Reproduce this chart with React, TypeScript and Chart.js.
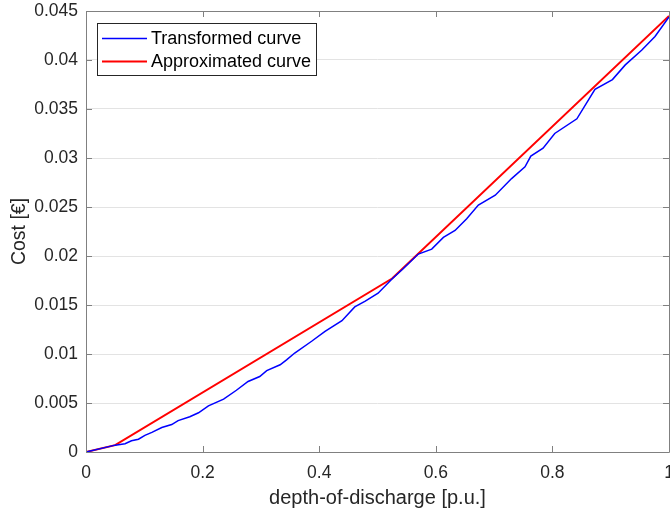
import React, { useEffect, useRef } from 'react';
import { Chart, registerables } from 'chart.js';

Chart.register(...registerables);

// ---- data ----
const xTickValues = [0, 0.2, 0.4, 0.6, 0.8, 1];
const yTickValues = [0, 0.005, 0.01, 0.015, 0.02, 0.025, 0.03, 0.035, 0.04, 0.045];

const transformedX = [
  0, 0.05, 0.067, 0.078, 0.09, 0.101, 0.113, 0.13, 0.147, 0.158, 0.178, 0.193, 0.21, 0.236,
  0.258, 0.278, 0.298, 0.31, 0.333, 0.344, 0.358, 0.387, 0.41, 0.439, 0.461, 0.479, 0.501,
  0.524, 0.544, 0.57, 0.593, 0.613, 0.633, 0.653, 0.673, 0.702, 0.73, 0.753, 0.763, 0.784,
  0.804, 0.842, 0.873, 0.903, 0.925, 0.953, 0.976, 1.0,
];
const transformedY = [
  0, 0.0007, 0.00085, 0.00115, 0.0013, 0.0017, 0.002, 0.0025, 0.0028, 0.0032, 0.0036, 0.004,
  0.0047, 0.0054, 0.0063, 0.0072, 0.0077, 0.0083, 0.0089, 0.0094, 0.0101, 0.0113, 0.0123,
  0.0134, 0.0148, 0.0154, 0.0162, 0.0176, 0.0187, 0.0202, 0.0207, 0.0219, 0.0226, 0.0238,
  0.0252, 0.0262, 0.0279, 0.0291, 0.0302, 0.031, 0.0325, 0.034, 0.037, 0.038, 0.0395, 0.041,
  0.0424, 0.0444,
];
const approxX = [0, 0.05, 0.525, 1];
const approxY = [0, 0.0007, 0.0177, 0.0445];

const seriesLabels = ['Transformed curve', 'Approximated curve'];
const seriesColors = ['#0000ff', '#ff0000'];
const xTitle = 'depth-of-discharge [p.u.]';
const yTitle = 'Cost [€]';

const FONT = '"Liberation Sans", Arial, Helvetica, sans-serif';
const AXIS_COLOR = '#808080';
const TEXT_COLOR = '#262626';

const fmt = (v: number) => String(Number(v.toFixed(4)));

const boxPlugin = {
  id: 'matlabBox',
  afterDatasetsDraw(chart: any) {
    const { ctx, chartArea } = chart;
    const { left, right, top, bottom } = chartArea;
    const xs = chart.scales.x;
    const ys = chart.scales.y;
    ctx.save();
    ctx.strokeStyle = AXIS_COLOR;
    ctx.lineWidth = 1;
    ctx.beginPath();
    ctx.rect(Math.round(left) + 0.5, Math.round(top) + 0.5, Math.round(right - left), Math.round(bottom - top));
    ctx.stroke();
    const tl = 6;
    ctx.beginPath();
    xTickValues.forEach((v) => {
      const px = Math.round(xs.getPixelForValue(v)) + 0.5;
      ctx.moveTo(px, bottom);
      ctx.lineTo(px, bottom - tl);
      ctx.moveTo(px, top);
      ctx.lineTo(px, top + tl);
    });
    yTickValues.forEach((v) => {
      const py = Math.round(ys.getPixelForValue(v)) + 0.5;
      ctx.moveTo(left, py);
      ctx.lineTo(left + tl, py);
      ctx.moveTo(right, py);
      ctx.lineTo(right - tl, py);
    });
    ctx.stroke();

    // legend
    const lx = 97.5, ly = 23.5, lw = 219, lh = 52;
    ctx.fillStyle = '#ffffff';
    ctx.fillRect(lx, ly, lw, lh);
    ctx.strokeStyle = '#262626';
    ctx.lineWidth = 1;
    ctx.strokeRect(lx, ly, lw, lh);
    ctx.font = `18px ${FONT}`;
    ctx.textBaseline = 'middle';
    ctx.textAlign = 'left';
    seriesLabels.forEach((label, i) => {
      const y = 38.5 + i * 23;
      ctx.strokeStyle = seriesColors[i];
      ctx.lineWidth = i === 0 ? 1.5 : 2;
      ctx.beginPath();
      ctx.moveTo(102, y);
      ctx.lineTo(147, y);
      ctx.stroke();
      ctx.fillStyle = '#000000';
      ctx.fillText(label, 151, y + 1);
    });
    ctx.restore();
  },
};

export default function App() {
  const ref = useRef<HTMLCanvasElement | null>(null);

  useEffect(() => {
    if (!ref.current) return;
    const chart = new Chart(ref.current, {
      type: 'line',
      data: {
        datasets: [
          {
            label: seriesLabels[0],
            data: transformedX.map((x, i) => ({ x, y: transformedY[i] })),
            borderColor: seriesColors[0],
            backgroundColor: seriesColors[0],
            borderWidth: 1.5,
            pointRadius: 0,
            tension: 0,
            fill: false,
          },
          {
            label: seriesLabels[1],
            data: approxX.map((x, i) => ({ x, y: approxY[i] })),
            borderColor: seriesColors[1],
            backgroundColor: seriesColors[1],
            borderWidth: 2,
            pointRadius: 0,
            tension: 0,
            fill: false,
          },
        ],
      },
      options: {
        animation: false,
        responsive: true,
        maintainAspectRatio: false,
        layout: { padding: { left: 0, right: 1, top: 11, bottom: 0 } },
        plugins: {
          legend: { display: false },
          tooltip: { enabled: false },
        },
        scales: {
          x: {
            type: 'linear',
            min: 0,
            max: 1,
            grid: { display: false, drawTicks: false },
            border: { display: false },
            afterBuildTicks: (s: any) => {
              s.ticks = xTickValues.map((v) => ({ value: v }));
            },
            afterFit: (s: any) => {
              s.height = 58;
              s.paddingLeft = 0;
              s.paddingRight = 0;
            },
            ticks: {
              padding: 11,
              maxRotation: 0,
              autoSkip: false,
              color: TEXT_COLOR,
              font: { family: FONT, size: 17.5 },
              callback: (v: any) => fmt(Number(v)),
            },
            title: {
              display: true,
              text: xTitle,
              color: TEXT_COLOR,
              font: { family: FONT, size: 20 },
              padding: { top: 4, bottom: 0 },
            },
          },
          y: {
            type: 'linear',
            min: 0,
            max: 0.045,
            grid: { display: true, color: '#e3e3e3', drawTicks: false },
            border: { display: false },
            afterBuildTicks: (s: any) => {
              s.ticks = yTickValues.map((v) => ({ value: v }));
            },
            afterFit: (s: any) => {
              s.width = 86;
              s.paddingTop = 0;
              s.paddingBottom = 0;
            },
            ticks: {
              padding: 8,
              autoSkip: false,
              color: TEXT_COLOR,
              font: { family: FONT, size: 17.5 },
              callback: (v: any) => fmt(Number(v)),
            },
            title: {
              display: true,
              text: yTitle,
              color: TEXT_COLOR,
              font: { family: FONT, size: 19.5 },
              padding: { top: 8, bottom: 0 },
            },
          },
        },
      },
      plugins: [boxPlugin],
    });
    return () => chart.destroy();
  }, []);

  return (
    <div style={{ position: 'fixed', left: 0, top: 0, width: 670, height: 510, background: '#fff' }}>
      <canvas ref={ref} />
    </div>
  );
}
